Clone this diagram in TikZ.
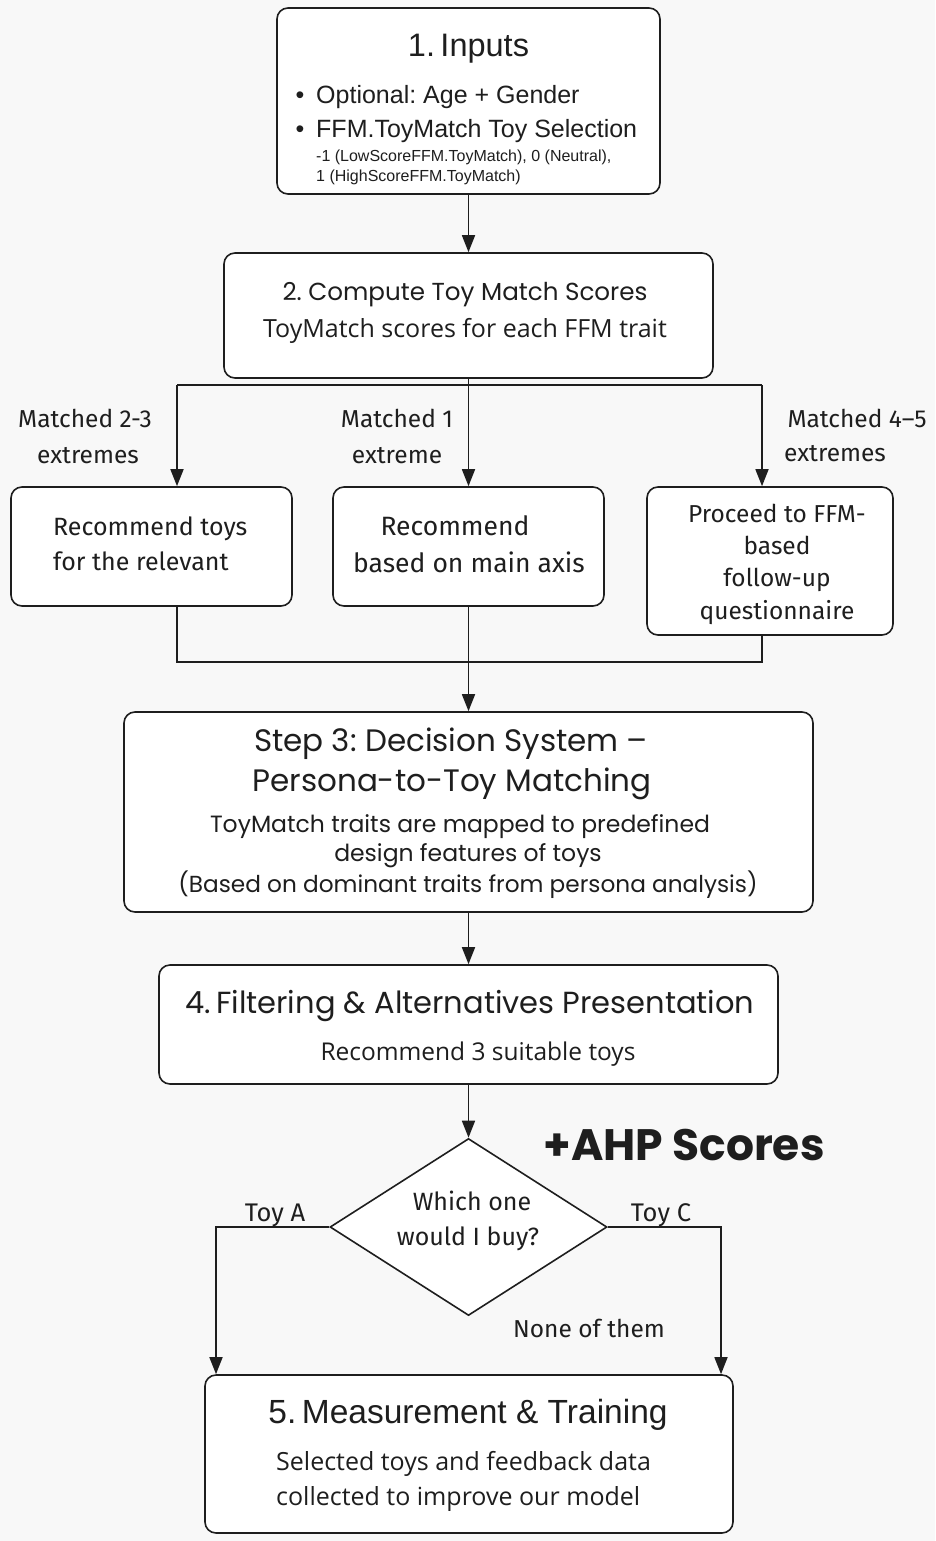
\documentclass[tikz,border=0pt]{standalone}
\usepackage{fontspec}
\usetikzlibrary{arrows.meta,shapes.geometric,calc}
\setmainfont{Liberation Sans}
\newfontfamily\popp{Poppins}
\newfontfamily\libs{Liberation Sans}
\newfontfamily\fira{Fira Sans}
\newfontfamily\opens{Open Sans}
\newcommand\fsz[1]{\fontsize{#1}{#1}\selectfont}
\definecolor{ink}{HTML}{1E1E1E}
\definecolor{bg}{HTML}{F8F8F8}
\frenchspacing
\tikzset{
  box/.style={draw=ink, line width=1.6pt, rounded corners=11pt, fill=white, inner sep=0pt},
  arr/.style={draw=ink, line width=1.6pt, -{Triangle[length=17pt,width=13pt]}},
  ln/.style={draw=ink, line width=1.6pt},
  txt/.style={inner sep=0pt, anchor=base, text=ink},
}
\begin{document}
\begin{tikzpicture}[x=1pt,y=-1pt]
\fill[bg] (0,0) rectangle (935,1541);
\useasboundingbox (0,0) rectangle (935,1541);

% boxes
\node[box, minimum width=383pt, minimum height=186pt] (b1) at (468.5,101) {};
\node[box, minimum width=489pt, minimum height=125pt] (b2) at (468.5,315.5) {};
\node[box, minimum width=281pt, minimum height=119pt] (ba) at (151.5,546.5) {};
\node[box, minimum width=271pt, minimum height=119pt] (bb) at (468.5,546.5) {};
\node[box, minimum width=246pt, minimum height=148pt] (bc) at (770,561) {};
\node[box, minimum width=689pt, minimum height=200pt] (b3) at (468.5,812) {};
\node[box, minimum width=619pt, minimum height=119pt] (b4) at (468.5,1024.5) {};
\node[draw=ink, line width=1.6pt, fill=white, shape=diamond, inner sep=0pt,
      minimum width=277pt, minimum height=177pt] (dia) at (468.5,1227) {};
\node[box, minimum width=528pt, minimum height=158pt] (b5) at (469,1454) {};

% box 1 text
\node[txt, font=\libs\fsz{32.5}] (t1) at (468.5,57) {1.\,Inputs};
\node[txt, font=\libs\fsz{25}] (bu1) at (300,104) {\textbullet};
\node[txt, anchor=base west, font=\libs\fsz{25}] (t1a) at (316,104) {Optional: Age + Gender};
\node[txt, font=\libs\fsz{25}] (bu2) at (300,138) {\textbullet};
\node[txt, anchor=base west, font=\libs\fsz{25}] (t1b) at (316,138) {FFM.ToyMatch Toy Selection};
\node[txt, anchor=base west, font=\libs\fsz{16}] (t1c) at (316,162) {-1 (LowScoreFFM.ToyMatch), 0 (Neutral),};
\node[txt, anchor=base west, font=\libs\fsz{16}] (t1d) at (316,182) {1 (HighScoreFFM.ToyMatch)};

% box 2 text
\node[txt, font=\popp\fsz{24.6}] (t2) at (465,300) {2. Compute Toy Match Scores};
\node[txt, font=\opens\fsz{25}] (t2a) at (465,337) {ToyMatch scores for each FFM trait};

% branch labels
\node[txt, font=\fira\fsz{24.5}] (la1) at (85,427) {Matched 2-3};
\node[txt, font=\fira\fsz{24.5}] (la2) at (88,463) {extremes};
\node[txt, font=\fira\fsz{24.5}] (lb1) at (397,427) {Matched 1};
\node[txt, font=\fira\fsz{24.5}] (lb2) at (397,463) {extreme};
\node[txt, font=\fira\fsz{24.5}] (lc1) at (857,427) {Matched 4–5};
\node[txt, font=\fira\fsz{24.5}] (lc2) at (835,461) {extremes};

% branch boxes text
\node[txt, anchor=base west, font=\fira\fsz{25}] (ta1) at (53,535) {Recommend toys};
\node[txt, anchor=base west, font=\fira\fsz{25}] (ta2) at (53,570) {for the relevant};
\node[txt, font=\fira\fsz{26.5}] (tb1) at (455,535) {Recommend};
\node[txt, font=\fira\fsz{26.5}] (tb2) at (469,572) {based on main axis};
\node[txt, font=\fira\fsz{24.5}] (tc1) at (777,522) {Proceed to FFM-};
\node[txt, font=\fira\fsz{24.5}] (tc2) at (777,554) {based};
\node[txt, font=\fira\fsz{24.5}] (tc3) at (777,586) {follow-up};
\node[txt, font=\fira\fsz{24.5}] (tc4) at (777,619) {questionnaire};

% box 3 text
\node[txt, font=\popp\fsz{31}] (t3a) at (451,751) {Step 3: Decision System –};
\node[txt, font=\popp\fsz{31}] (t3b) at (452,791) {Persona-to-Toy Matching};
\node[txt, font=\popp\fsz{23.5}] (t3c) at (460,832) {ToyMatch traits are mapped to predefined};
\node[txt, font=\popp\fsz{23.5}] (t3d) at (468,861) {design features of toys};
\node[txt, font=\popp\fsz{23.2}] (t3e) at (468,892) {(Based on dominant traits from persona analysis)};

% box 4 text
\node[txt, font=\popp\fsz{30.5}] (t4) at (470,1013) {4.\,Filtering \& Alternatives Presentation};
\node[txt, font=\opens\fsz{24.5}] (t4a) at (478,1060) {Recommend 3 suitable toys};

% diamond text
\node[txt, font=\fira\fsz{25}] (d1) at (472,1210) {Which one};
\node[txt, font=\fira\fsz{25}] (d2) at (468,1245) {would I buy?};

\node[txt, font=\popp\bfseries\fsz{44}] (ahp) at (684,1160) {+AHP Scores};

\node[txt, font=\fira\fsz{25.5}] (lA) at (275,1221) {Toy A};
\node[txt, font=\fira\fsz{25.5}] (lC) at (661,1221) {Toy C};
\node[txt, font=\fira\fsz{24.5}] (lN) at (589,1337) {None of them};

% box 5 text
\node[txt, font=\libs\fsz{33.5}] (t5) at (468,1423) {5.\,Measurement \& Training};
\node[txt, anchor=base west, font=\opens\fsz{25}] (t5a) at (276,1470) {Selected toys and feedback data};
\node[txt, anchor=base west, font=\opens\fsz{25}] (t5b) at (276,1505) {collected to improve our model};

% connectors
\coordinate (split) at (468.5,385);
\coordinate (join) at (468.5,662);
\draw[arr] (b1.south) -- (b2.north);
\draw[arr] (b2.south) -- (bb.north);
\draw[ln] ([xshift=25.5pt]ba.north |- split) -- ([xshift=-8pt]bc.north |- split);
\draw[arr] ([xshift=25.5pt]ba.north |- split) -- ([xshift=25.5pt]ba.north);
\draw[arr] ([xshift=-8pt]bc.north |- split) -- ([xshift=-8pt]bc.north);
\draw[ln] ([xshift=25.5pt]ba.south) |- (join) -| ([xshift=-8pt]bc.south);
\draw[arr] (bb.south) -- (b3.north);
\draw[arr] (b3.south) -- (b4.north);
\draw[arr] (b4.south) -- (dia.north);
\draw[arr] (dia.west) -| ([xshift=-253pt]b5.north);
\draw[arr] (dia.east) -| ([xshift=252pt]b5.north);
\end{tikzpicture}
\end{document}
